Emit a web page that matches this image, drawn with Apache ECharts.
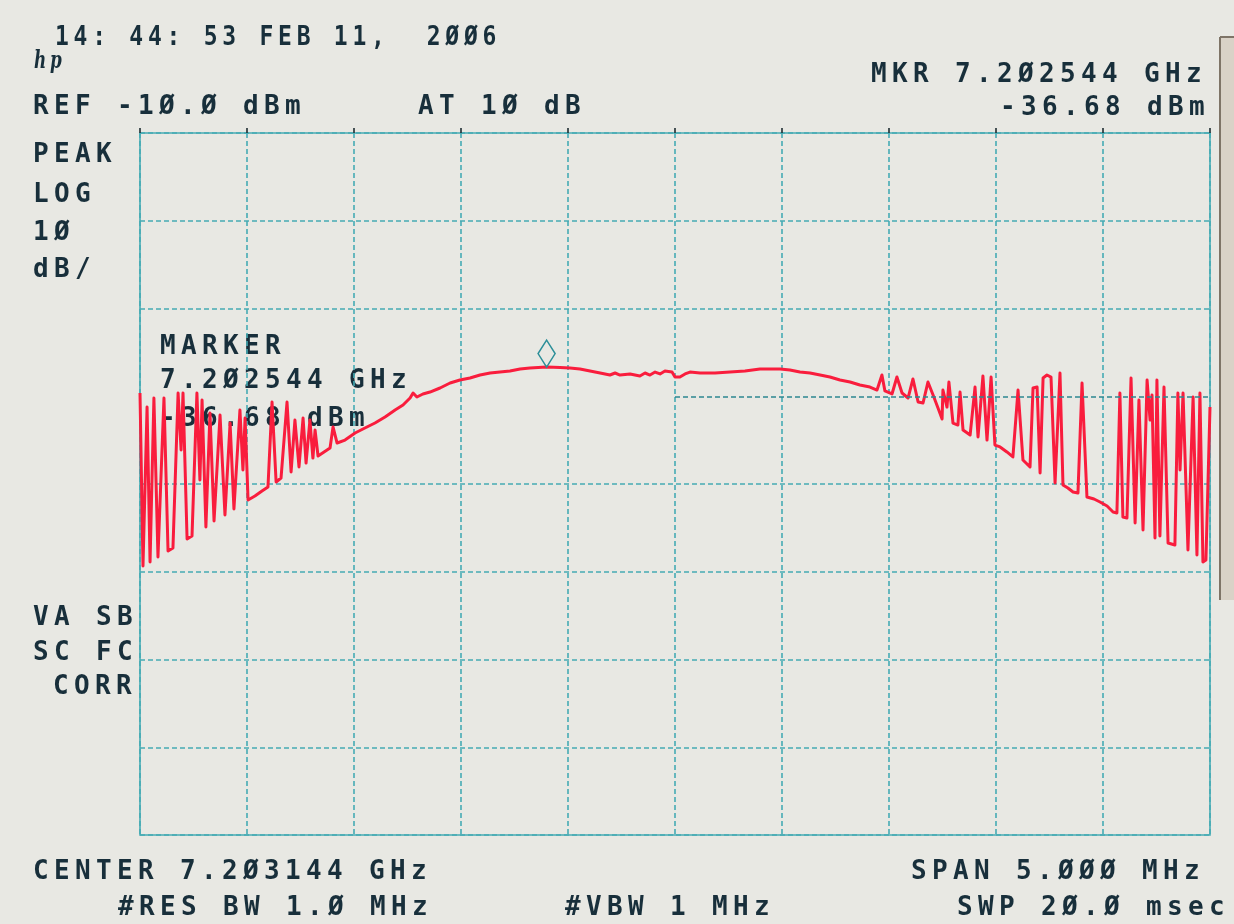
<!DOCTYPE html>
<html>
<head>
<meta charset="utf-8">
<script src="https://cdn.jsdelivr.net/npm/echarts@6/dist/echarts.min.js"></script>
<style>
  html, body { margin: 0; padding: 0; background: #e8e8e3; }
  #chart { width: 1234px; height: 924px; }
</style>
</head>
<body>
<div id="chart"></div>
<script>
// Sweep positions, MHz from the start of the 5 MHz span (centre 7.203144 GHz)
const freqOffsetMHz = [
  0.000,0.014,0.033,0.047,0.065,0.084,0.112,0.131,0.154,0.178,
  0.192,0.201,0.220,0.243,0.266,0.280,0.290,0.308,0.327,0.346,
  0.374,0.397,0.421,0.439,0.467,0.481,0.491,0.505,0.537,0.570,
  0.598,0.617,0.636,0.659,0.687,0.706,0.724,0.743,0.762,0.776,
  0.794,0.808,0.818,0.832,0.860,0.888,0.902,0.921,0.958,1.005,
  1.051,1.098,1.145,1.192,1.229,1.262,1.276,1.294,1.322,1.355,
  1.402,1.449,1.495,1.542,1.589,1.636,1.682,1.729,1.776,1.822,
  1.900,1.963,2.009,2.056,2.103,2.150,2.196,2.220,2.243,2.290,
  2.336,2.360,2.383,2.407,2.430,2.453,2.486,2.500,2.523,2.547,
  2.570,2.617,2.687,2.757,2.827,2.897,2.944,2.991,3.037,3.084,
  3.131,3.178,3.224,3.271,3.318,3.364,3.411,3.444,3.467,3.481,
  3.514,3.537,3.561,3.589,3.612,3.636,3.659,3.682,3.706,3.729,
  3.748,3.752,3.771,3.780,3.799,3.822,3.832,3.846,3.879,3.902,
  3.916,3.939,3.958,3.977,3.995,4.019,4.051,4.079,4.103,4.126,
  4.159,4.173,4.192,4.206,4.220,4.238,4.257,4.276,4.299,4.313,
  4.336,4.360,4.383,4.402,4.425,4.458,4.486,4.519,4.547,4.565,
  4.579,4.593,4.612,4.631,4.650,4.668,4.687,4.706,4.720,4.729,
  4.743,4.752,4.766,4.785,4.804,4.836,4.850,4.860,4.874,4.897,
  4.921,4.939,4.953,4.967,4.981,5.000
];

// Peak-detected trace level, dBm
const traceDbm = [
  -39.63,-59.34,-41.22,-58.89,-40.20,-58.32,-40.20,-57.64,-57.29,-39.63,
  -46.13,-39.63,-56.27,-55.93,-39.63,-49.54,-40.43,-54.90,-41.91,-54.22,
  -42.14,-53.53,-43.05,-52.85,-41.57,-48.41,-42.48,-51.82,-51.37,-50.80,
  -50.34,-40.66,-49.77,-49.32,-40.66,-48.63,-42.71,-48.06,-42.48,-47.61,
  -42.71,-47.04,-43.85,-46.81,-46.35,-45.90,-43.50,-45.33,-44.99,-44.19,
  -43.62,-43.05,-42.36,-41.57,-41.00,-40.20,-39.63,-40.09,-39.74,-39.52,
  -39.06,-38.49,-38.15,-37.92,-37.58,-37.35,-37.24,-37.12,-36.89,-36.78,
  -36.68,-36.72,-36.78,-36.89,-37.12,-37.35,-37.58,-37.35,-37.58,-37.46,
  -37.69,-37.35,-37.58,-37.24,-37.46,-37.12,-37.24,-37.81,-37.81,-37.46,
  -37.24,-37.35,-37.35,-37.24,-37.12,-36.89,-36.89,-36.89,-37.01,-37.24,
  -37.35,-37.58,-37.81,-38.15,-38.38,-38.72,-38.95,-39.29,-37.58,-39.40,
  -39.74,-37.81,-39.63,-40.20,-38.03,-40.66,-40.77,-38.38,-39.86,-41.34,
  -42.59,-39.29,-41.23,-38.38,-43.05,-43.28,-39.52,-43.85,-44.42,-38.95,
  -44.64,-37.69,-44.99,-37.81,-45.56,-45.78,-46.35,-46.92,-39.29,-47.27,
  -48.06,-39.06,-38.95,-48.75,-37.92,-37.58,-37.81,-49.89,-37.35,-50.11,
  -50.46,-50.91,-51.03,-38.49,-51.48,-51.71,-52.05,-52.51,-53.19,-53.30,
  -39.63,-53.76,-53.87,-37.92,-54.44,-40.43,-55.24,-38.15,-42.71,-39.86,
  -56.15,-38.15,-55.93,-38.95,-56.72,-56.95,-39.63,-48.41,-39.63,-57.52,
  -40.09,-58.09,-39.63,-58.89,-58.66,-41.23
];

// Marker readout
const markerOffsetMHz = 1.9;      // 7.202544 GHz
const markerDbm = -36.68;

// Display scale: REF -10 dBm, 10 dB/div, 8 divisions; span 5 MHz, 10 divisions
const refLevel = -10;
const dbPerDiv = 10;
const spanMHz = 5;

const TEAL = '#45abb4';
const INK = '#182f3b';
const FONT_PX = 26;
const FONT = 'bold ' + FONT_PX + 'px "DejaVu Sans Mono"';
const PITCH = 21;                  // printer character cell, px
const LETTER_GAP = PITCH - FONT_PX * 0.602;
const CAN_SPACE = typeof CanvasRenderingContext2D !== 'undefined' &&
  'letterSpacing' in CanvasRenderingContext2D.prototype;
// without canvas letter spacing, stretch the text to the same cell pitch instead
const STRETCH = CAN_SPACE ? 1 : PITCH / (FONT_PX * 0.602);

const traceData = freqOffsetMHz.map((f, i) => [f, traceDbm[i]]);

function txt(text, x, y, align, scale) {
  return {
    type: 'text', x: x, y: y + 2, silent: true, scaleX: (scale || 1) * STRETCH,
    style: { text: text, font: FONT, fill: INK, textAlign: align || 'left', textVerticalAlign: 'middle' }
  };
}

// horizontal graticule: the -40 dBm line is drawn only across the right half
const yLineColors = [TEAL, TEAL, TEAL, TEAL, TEAL, 'rgba(0,0,0,0)', TEAL, TEAL, TEAL];

const option = {
  backgroundColor: '#e8e8e3',
  animation: false,
  grid: {
    left: 140, right: 24, top: 133, bottom: 89,
    show: true, borderColor: TEAL, borderWidth: 1.6, backgroundColor: 'transparent'
  },
  xAxis: [
    {
      type: 'value', min: 0, max: spanMHz, interval: spanMHz / 10,
      axisLine: { show: false }, axisTick: { show: false }, axisLabel: { show: false },
      splitLine: { show: true, lineStyle: { color: TEAL, width: 1.6, type: [5, 3] } }
    },
    {
      type: 'value', position: 'top', min: 0, max: spanMHz, interval: spanMHz / 10,
      axisLine: { show: false }, axisLabel: { show: false }, splitLine: { show: false },
      axisTick: { show: true, inside: false, length: 5, lineStyle: { color: '#1d2c31', width: 1.6 } }
    }
  ],
  yAxis: {
    type: 'value', min: refLevel - 8 * dbPerDiv, max: refLevel, interval: dbPerDiv,
    axisLine: { show: false }, axisTick: { show: false }, axisLabel: { show: false },
    splitLine: { show: true, lineStyle: { color: yLineColors, width: 1.6, type: [5, 3] } }
  },
  series: [{
    type: 'line',
    data: traceData,
    showSymbol: false,
    symbol: 'none',
    lineStyle: { color: '#f91d3d', width: 3, join: 'round' },
    markLine: {
      silent: true, symbol: 'none', label: { show: false },
      lineStyle: { color: '#2d8791', width: 1.6, type: [5, 3] },
      data: [[{ coord: [spanMHz / 2, -40] }, { coord: [spanMHz, -40] }]]
    },
    markPoint: {
      silent: true,
      symbol: 'diamond', symbolSize: [17, 27], symbolOffset: [0, '-50%'],
      itemStyle: { color: 'rgba(0,0,0,0)', borderColor: '#2b8e98', borderWidth: 1.6 },
      label: { show: false },
      data: [{ coord: [markerOffsetMHz, markerDbm] }]
    }
  }],
  graphic: [
    // paper edge on the right
    { type: 'rect', silent: true, shape: { x: 1220, y: 37, width: 14, height: 563 }, style: { fill: '#d9d2c7' } },
    { type: 'line', silent: true, shape: { x1: 1220, y1: 37, x2: 1220, y2: 600 }, style: { stroke: '#7e7467', lineWidth: 2 } },
    { type: 'line', silent: true, shape: { x1: 1220, y1: 37, x2: 1234, y2: 37 }, style: { stroke: '#7e7467', lineWidth: 2 } },

    { type: 'text', x: 34, y: 62, silent: true, scaleX: 0.7,
      style: { text: 'hp', font: 'italic bold 24px "DejaVu Serif"', fill: INK, textAlign: 'left', textVerticalAlign: 'middle' } },
    txt('14: 44: 53 FEB 11,  2ØØ6', 55, 36, 'left', 0.885),
    txt('MKR 7.2Ø2544 GHz', 1207, 73, 'right'),
    txt('REF -1Ø.Ø dBm', 33, 105),
    txt('AT 1Ø dB', 418, 105),
    txt('-36.68 dBm', 1210, 106, 'right'),
    txt('PEAK', 33, 153),
    txt('LOG', 33, 193),
    txt('1Ø', 33, 231),
    txt('dB/', 33, 268),
    txt('MARKER', 160, 345),
    txt('7.2Ø2544 GHz', 160, 379),
    txt('-36.68 dBm', 160, 417),
    txt('VA SB', 33, 616),
    txt('SC FC', 33, 651),
    txt('CORR', 53, 685),
    txt('CENTER 7.2Ø3144 GHz', 33, 870),
    txt('SPAN 5.ØØØ MHz', 1205, 870, 'right'),
    txt('#RES BW 1.Ø MHz', 118, 906),
    txt('#VBW 1 MHz', 565, 906),
    txt('SWP 2Ø.Ø msec', 1230, 906, 'right')
  ]
};

const dom = document.getElementById('chart');
const chart = echarts.init(dom, null, { renderer: 'canvas', devicePixelRatio: 1 });
chart.setOption(option);

// wide printer character pitch: apply the gap to the drawn layers and repaint them
if (CAN_SPACE) {
  dom.querySelectorAll('canvas').forEach(function (c) {
    c.getContext('2d').letterSpacing = LETTER_GAP.toFixed(2) + 'px';
  });
  const painter = chart.getZr().painter;
  if (painter && painter.refresh) painter.refresh(true);
}
</script>
</body>
</html>
